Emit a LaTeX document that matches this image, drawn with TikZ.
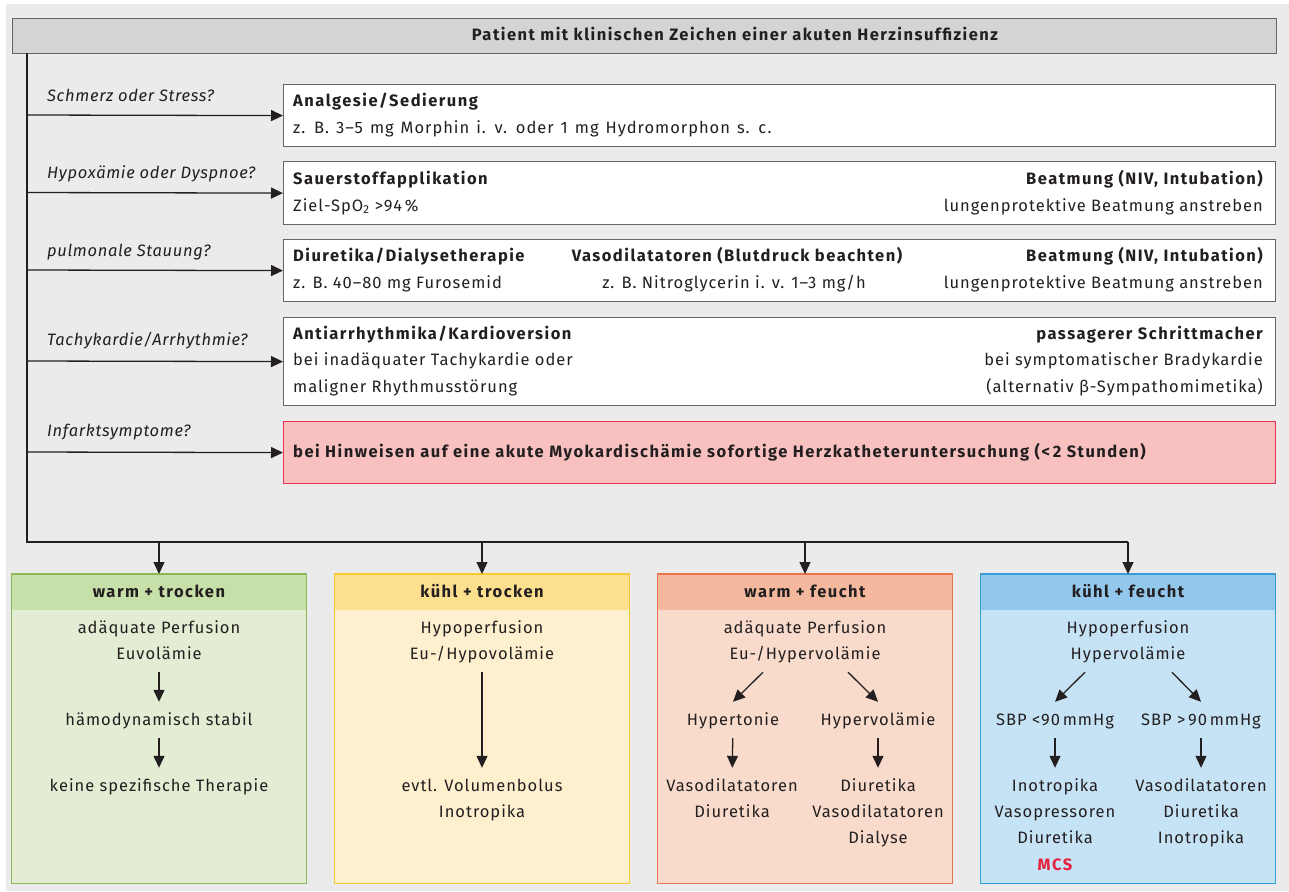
\documentclass[tikz,border=0pt]{standalone}
\usepackage{fontspec}
\setmainfont{Fira Sans}[LetterSpace=6,
  BoldFeatures={LetterSpace=9},
  ItalicFeatures={LetterSpace=4}]
\usetikzlibrary{arrows.meta,calc}

\definecolor{bg}{HTML}{EBEBEB}
\definecolor{ink}{HTML}{231F20}
\definecolor{frame}{HTML}{666666}
\definecolor{topfill}{HTML}{D3D4D6}
\definecolor{alarmfill}{HTML}{F8C1C0}
\definecolor{alarmline}{HTML}{E83650}
\definecolor{mcsred}{HTML}{E5213E}
\definecolor{gbody}{HTML}{E2EDD3}
\definecolor{ghead}{HTML}{C7DFA9}
\definecolor{gline}{HTML}{8DB85A}
\definecolor{ybody}{HTML}{FEF0CE}
\definecolor{yhead}{HTML}{FDE08E}
\definecolor{yline}{HTML}{F7C935}
\definecolor{obody}{HTML}{F8DBCB}
\definecolor{ohead}{HTML}{F3B89D}
\definecolor{oline}{HTML}{E8744F}
\definecolor{cbody}{HTML}{C6E2F5}
\definecolor{chead}{HTML}{93C8EC}
\definecolor{cline}{HTML}{3A9BD5}

\newcommand\bodysize{\fontsize{16.5}{19}\selectfont}
\newcommand\widespacing{\spaceskip 7pt plus 1pt\relax}
\newcommand\widetrack{\addfontfeature{LetterSpace=10}}

\tikzset{
  arr/.style={draw=ink, line width=1.3pt, -{Triangle[length=12pt,width=11pt]}},
  flow/.style={arr, shorten <=9pt, shorten >=11pt},
  wbox/.style={draw=frame, line width=1.2pt, fill=white, minimum width=992pt,
               anchor=north west, inner sep=0pt},
  txt/.style={inner sep=0pt, text=ink, text height=12pt, text depth=4pt},
  tl/.style={txt, anchor=base west},
  tr/.style={txt, anchor=base east},
  tc/.style={txt, anchor=base},
  bf/.style={font=\bodysize\bfseries},
  bfwide/.style={font=\bodysize\bfseries\widetrack},
  widesp/.style={font=\bodysize\widespacing},
  quest/.style={txt, anchor=base west, font=\bodysize\itshape},
  catframe/.style={anchor=north, minimum width=294pt, minimum height=309pt,
                   inner sep=0pt, draw=none},
}

% coloured category box: name, centre x, body, header, border, title
\newcommand\catbox[6]{%
  \node[catframe, fill=#3] (#1) at (#2,574) {};
  \fill[#4] ($(#1.north west)+(0.65,0.65)$) rectangle ($(#1.north east)+(-0.65,36)$);
  \draw[#5, line width=1.3pt] (#1.north west) rectangle (#1.south east);
  \node[tc, bf] (#1-t) at (#2,597) {#6};
}

\begin{document}
\begin{tikzpicture}[x=1pt, y=-1pt, font=\bodysize]
\useasboundingbox (0,0) rectangle (1289,891);
\fill[white] (0,0) rectangle (1289,891);
\fill[bg] (6,4) rectangle (1289,891);

% title bar
\node[draw=frame, line width=1.2pt, fill=topfill, minimum width=1264pt,
      minimum height=35pt, anchor=north west, inner sep=0pt] (top) at (12,18) {};
\node[tc, bf] (toptxt) at (735,41) {Patient mit klinischen Zeichen einer akuten Herzinsuffizienz};

% measure boxes
\node[wbox, minimum height=62pt] (m1) at (283,84) {};
\node[wbox, minimum height=63pt] (m2) at (283,161) {};
\node[wbox, minimum height=62pt] (m3) at (283,239) {};
\node[wbox, minimum height=88pt] (m4) at (283,317) {};
\node[wbox, minimum height=62pt, draw=alarmline, fill=alarmfill] (m5) at (283,421) {};

% questions
\node[quest] (q1t) at (47,101) {Schmerz oder Stress?};
\node[quest] (q2t) at (47,178) {Hypoxämie oder Dyspnoe?};
\node[quest] (q3t) at (47,256) {pulmonale Stauung?};
\node[quest] (q4t) at (47,345) {Tachykardie/Arrhythmie?};
\node[quest] (q5t) at (47,436) {Infarktsymptome?};

% trunk line
\coordinate (t0) at (27,53);
\coordinate (t1) at (27,542);
\coordinate (t2) at (1128,542);
\draw[ink, line width=1.3pt] (t0) -- (t1) -- (t2);

\coordinate (q1) at (27,115);
\coordinate (q2) at (27,192.5);
\coordinate (q3) at (27,270);
\coordinate (q4) at (27,361);
\coordinate (q5) at (27,452);
\draw[arr] (q1) -- (m1.west);
\draw[arr] (q2) -- (m2.west);
\draw[arr] (q3) -- (m3.west);
\draw[arr] (q4) -- (m4.west);
\draw[arr] (q5) -- (m5.west);

% box texts
\node[tl, bf] (m1a) at (293,106) {Analgesie/Sedierung};
\node[tl, widesp] (m1b) at (293,133) {z. B. 3–5 mg Morphin i. v. oder 1 mg Hydromorphon s. c.};

\node[tl, bf] (m2a) at (293,184) {Sauerstoffapplikation};
\node[tl] (m2b) at (293,211) {Ziel-SpO\textsubscript{2} >94\,\%};
\node[tr, bf] (m2c) at (1263,184) {Beatmung (NIV, Intubation)};
\node[tr] (m2d) at (1263,211) {lungenprotektive Beatmung anstreben};

\node[tl, bf] (m3a) at (293,261) {Diuretika/Dialysetherapie};
\node[tl] (m3b) at (293,288) {z. B. 40–80 mg Furosemid};
\node[tc, bf] (m3c) at (737,261) {Vasodilatatoren (Blutdruck beachten)};
\node[tc] (m3d) at (734,288) {z. B. Nitroglycerin i. v. 1–3 mg/h};
\node[tr, bf] (m3e) at (1263,261) {Beatmung (NIV, Intubation)};
\node[tr] (m3f) at (1263,288) {lungenprotektive Beatmung anstreben};

\node[tl, bf] (m4a) at (293,339) {Antiarrhythmika/Kardioversion};
\node[tl] (m4b) at (293,365) {bei inadäquater Tachykardie oder};
\node[tl] (m4c) at (293,392) {maligner Rhythmusstörung};
\node[tr, bf] (m4d) at (1263,339) {passagerer Schrittmacher};
\node[tr] (m4e) at (1263,365) {bei symptomatischer Bradykardie};
\node[tr] (m4f) at (1263,392) {(alternativ β-Sympathomimetika)};

\node[tl, bfwide] (m5a) at (293,457) {bei Hinweisen auf eine akute Myokardischämie sofortige Herzkatheteruntersuchung (<\,2 Stunden)};

% category boxes
\catbox{g}{159}{gbody}{ghead}{gline}{warm + trocken}
\catbox{y}{482}{ybody}{yhead}{yline}{kühl + trocken}
\catbox{o}{805}{obody}{ohead}{oline}{warm + feucht}
\catbox{c}{1128}{cbody}{chead}{cline}{kühl + feucht}

\coordinate (d1) at (159,542);
\coordinate (d2) at (482,542);
\coordinate (d3) at (805,542);
\coordinate (d4) at (1128,542);
\draw[arr] (d1) -- (g.north);
\draw[arr] (d2) -- (y.north);
\draw[arr] (d3) -- (o.north);
\draw[arr] (d4) -- (c.north);

% warm + trocken
\node[tc] (g1) at (159,633) {adäquate Perfusion};
\node[tc] (g2) at (159,659) {Euvolämie};
\node[tc] (g3) at (159,725) {hämodynamisch stabil};
\node[tc] (g4) at (159,791) {keine spezifische Therapie};
\draw[flow] (g2) -- (g3);
\draw[flow] (g3) -- (g4);

% kuehl + trocken
\node[tc] (y1) at (482,633) {Hypoperfusion};
\node[tc] (y2) at (482,659) {Eu-/Hypovolämie};
\node[tc] (y3) at (482,791) {evtl. Volumenbolus};
\node[tc] (y4) at (482,817) {Inotropika};
\draw[flow] (y2) -- (y3);

% warm + feucht
\node[tc] (o1) at (805,633) {adäquate Perfusion};
\node[tc] (o2) at (805,659) {Eu-/Hypervolämie};
\node[tc] (o3) at (733,725) {Hypertonie};
\node[tc] (o4) at (878,725) {Hypervolämie};
\node[tc] (o5) at (732,791) {Vasodilatatoren};
\node[tc] (o6) at (732,817) {Diuretika};
\node[tc] (o7) at (878,791) {Diuretika};
\node[tc] (o8) at (878,817) {Vasodilatatoren};
\node[tc] (o9) at (878,843) {Dialyse};
\draw[arr] ([xshift=-42pt, yshift=-9pt]o2.south) -- ([yshift=11pt]o3.north);
\draw[arr] ([xshift=43pt, yshift=-9pt]o2.south) -- ([yshift=11pt]o4.north);
\draw[flow] (o3) -- (o5);
\draw[flow] (o4) -- (o7);

% kuehl + feucht
\node[tc] (c1) at (1128,633) {Hypoperfusion};
\node[tc] (c2) at (1128,659) {Hypervolämie};
\node[tc] (c3) at (1055,725) {SBP <90\,mmHg};
\node[tc] (c4) at (1201,725) {SBP >\,90\,mmHg};
\node[tc] (c5) at (1055,791) {Inotropika};
\node[tc] (c6) at (1055,817) {Vasopressoren};
\node[tc] (c7) at (1055,843) {Diuretika};
\node[tc, bf, text=mcsred] (c8) at (1055,870) {MCS};
\node[tc] (c9) at (1201,791) {Vasodilatatoren};
\node[tc] (c10) at (1201,817) {Diuretika};
\node[tc] (c11) at (1201,843) {Inotropika};
\draw[arr] ([xshift=-43pt, yshift=-9pt]c2.south) -- ([yshift=11pt]c3.north);
\draw[arr] ([xshift=44pt, yshift=-9pt]c2.south) -- ([yshift=11pt]c4.north);
\draw[flow] (c3) -- (c5);
\draw[flow] (c4) -- (c9);
\end{tikzpicture}
\end{document}
